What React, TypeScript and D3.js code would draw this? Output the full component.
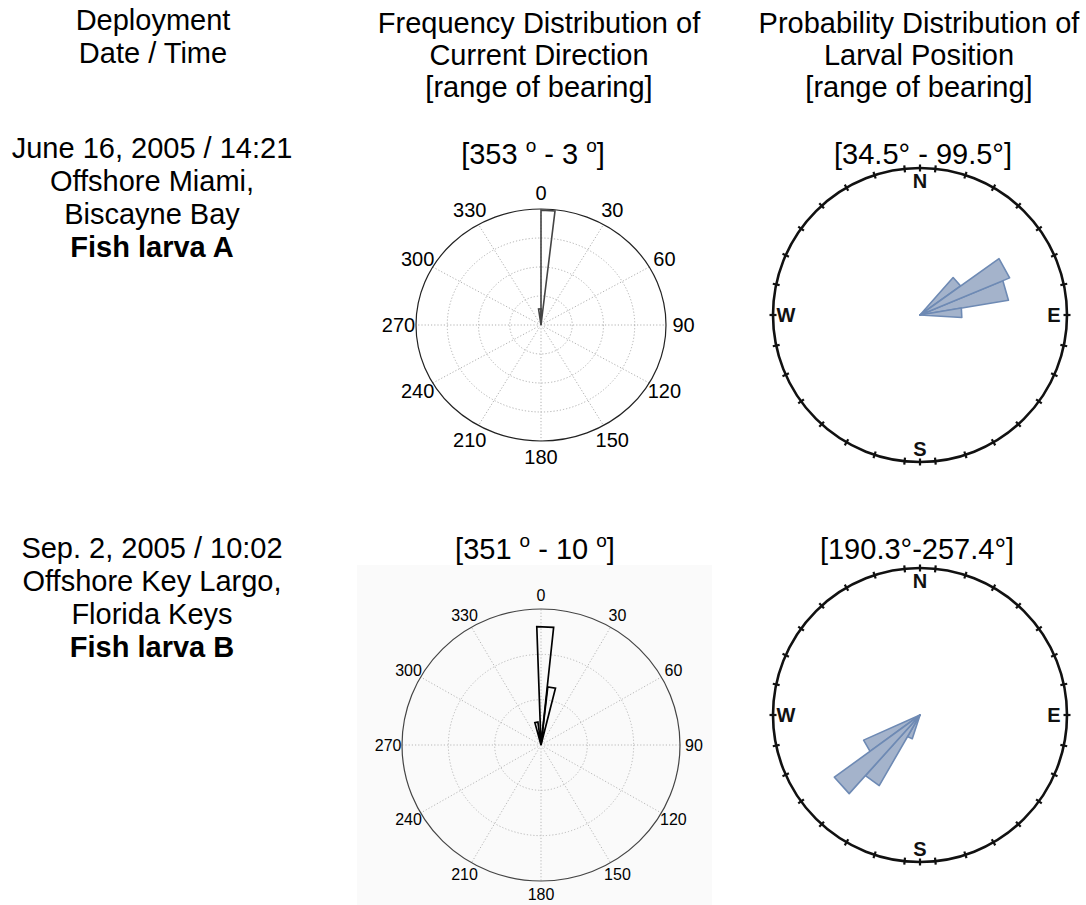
import React from "react";
import * as d3 from "d3";

// ---------- DATA ----------
const headerLeft = ["Deployment", "Date / Time"];
const headerMiddle = ["Frequency Distribution of", "Current Direction", "[range of bearing]"];
const headerRight = ["Probability Distribution of", "Larval Position", "[range of bearing]"];

const rowALines = ["June 16, 2005 / 14:21", "Offshore Miami,", "Biscayne Bay"];
const rowATitle = "Fish larva A";
const rowBLines = ["Sep. 2, 2005 / 10:02", "Offshore Key Largo,", "Florida Keys"];
const rowBTitle = "Fish larva B";

// current direction ranges (deg) shown with superscript "o"
const currentRangeA = [353, 3];
const currentRangeB = [351, 10];
const larvalRangeA = "[34.5° - 99.5°]";
const larvalRangeB = "[190.3°-257.4°]";

// polar tick labels
const polarTicks = [0, 30, 60, 90, 120, 150, 180, 210, 240, 270, 300, 330];

// Rose (current direction) bins: start bearing, end bearing, relative frequency
const roseAStart = [352, 0];
const roseAEnd = [360, 6.5];
const roseAFreq = [0.14, 0.99];

const roseBStart = [345, 358, 6.5];
const roseBEnd = [352.5, 366, 14];
const roseBFreq = [0.17, 0.87, 0.43];

// Larval position probability bins
const larvaAStart = [41.5, 67.5, 54.5, 80.5];
const larvaAEnd = [54.5, 80.5, 67.5, 93.5];
const larvaAProb = [0.34, 0.61, 0.66, 0.285];

const larvaBStart = [234, 198, 210, 222];
const larvaBEnd = [246, 210, 222, 234];
const larvaBProb = [0.42, 0.17, 0.555, 0.72];

// compass tick bearings
const compassTicks = [0, 180, 6, 18, 30, 42, 54, 66, 78, 90, 102, 114, 126, 138, 150, 162, 174,
  186, 198, 210, 222, 234, 246, 258, 270, 282, 294, 306, 318, 330, 342, 354];
const compassLabels = ["N", "E", "S", "W"];
const compassLabelBearings = [0, 90, 180, 270];

const FONT = "'Liberation Sans', Arial, Helvetica, sans-serif";
const angle = d3.scaleLinear().domain([0, 360]).range([0, 2 * Math.PI]);

function makePt(cx: number, cy: number, rx: number, ry: number) {
  const sx = d3.scaleLinear().domain([0, 1]).range([0, rx]);
  const sy = d3.scaleLinear().domain([0, 1]).range([0, ry]);
  return (deg: number, r: number): [number, number] => [
    cx + sx(r) * Math.sin(angle(deg)),
    cy - sy(r) * Math.cos(angle(deg)),
  ];
}

function wedgePath(pt: (d: number, r: number) => [number, number], s: number, e: number, v: number) {
  const p = d3.path();
  const c = pt(0, 0);
  const a = pt(s, v);
  const b = pt(e, v);
  p.moveTo(c[0], c[1]);
  p.lineTo(a[0], a[1]);
  p.lineTo(b[0], b[1]);
  p.closePath();
  return p.toString();
}

function PolarRose(props: {
  cx: number; cy: number; rx: number; ry: number; rings: number[]; labelF: number;
  fontSize: number; starts: number[]; ends: number[]; vals: number[];
  gridColor: string; outerColor: string; wedgeColor: string; wedgeWidth: number;
}) {
  const { cx, cy, rx, ry, rings, labelF, fontSize, starts, ends, vals } = props;
  const pt = makePt(cx, cy, rx, ry);
  return (
    <g>
      {rings.map((r, i) => (
        <ellipse key={"r" + i} cx={cx} cy={cy} rx={rx * r} ry={ry * r} fill="none"
          stroke={props.gridColor} strokeWidth={1} strokeDasharray="1.2,2" />
      ))}
      {polarTicks.map((t) => {
        const [x, y] = pt(t, 1);
        return <line key={"s" + t} x1={cx} y1={cy} x2={x} y2={y} stroke={props.gridColor}
          strokeWidth={1} strokeDasharray="1.2,2" />;
      })}
      <ellipse cx={cx} cy={cy} rx={rx} ry={ry} fill="none" stroke={props.outerColor} strokeWidth={1.2} />
      {polarTicks.map((t) => {
        const [x, y] = pt(t, labelF);
        return <text key={"l" + t} x={x} y={y} fontSize={fontSize} fontFamily={FONT}
          textAnchor="middle" dominantBaseline="central" fill="#000">{t}</text>;
      })}
      {starts.map((s, i) => (
        <path key={"w" + i} d={wedgePath(pt, s, ends[i], vals[i])} fill="none"
          stroke={props.wedgeColor} strokeWidth={props.wedgeWidth} strokeLinejoin="miter" />
      ))}
    </g>
  );
}

function Compass(props: { cx: number; cy: number; r: number; starts: number[]; ends: number[]; vals: number[] }) {
  const { cx, cy, r, starts, ends, vals } = props;
  const pt = makePt(cx, cy, r, r);
  return (
    <g>
      <circle cx={cx} cy={cy} r={r} fill="none" stroke="#111" strokeWidth={2.6} />
      {compassTicks.map((t, i) => {
        const a = pt(t, 1 - 3.5 / r);
        const b = pt(t, 1 + 3.5 / r);
        return <line key={"t" + i} x1={a[0]} y1={a[1]} x2={b[0]} y2={b[1]} stroke="#111" strokeWidth={2.2} />;
      })}
      {compassLabels.map((l, i) => {
        const [x, y] = pt(compassLabelBearings[i], 134 / r);
        return <text key={l} x={x} y={y} fontSize={20} fontWeight="bold" fontFamily={FONT}
          textAnchor="middle" dominantBaseline="central" fill="#111">{l}</text>;
      })}
      {starts.map((s, i) => (
        <path key={"w" + i} d={wedgePath(pt, s, ends[i], vals[i])} fill="#a4b3cb"
          stroke="#6e8ab4" strokeWidth={1.6} strokeLinejoin="round" />
      ))}
    </g>
  );
}

function CurrentRange(props: { x: number; y: number; range: number[] }) {
  const { x, y, range } = props;
  return (
    <text x={x} y={y} fontSize={29} fontFamily={FONT} textAnchor="middle" fill="#000">
      {"[" + range[0] + "  "}
      <tspan fontSize={19} dy={-12}>o</tspan>
      <tspan dy={12}>{"  - " + range[1] + " "}</tspan>
      <tspan fontSize={19} dy={-12}>o</tspan>
      <tspan dy={12}>]</tspan>
    </text>
  );
}

export default function App() {
  const W = 1086, H = 905;
  const lineH = 33;
  return (
    <svg width={W} height={H} viewBox={`0 0 ${W} ${H}`}
      style={{ position: "absolute", left: 0, top: 0, background: "#fff" }}>
      <rect x={0} y={0} width={W} height={H} fill="#fff" />
      {/* light panel behind bottom rose */}
      <rect x={357} y={565} width={355} height={340} fill="#fafafa" />
      {/* headers */}
      {headerLeft.map((t, i) => (
        <text key={"hl" + i} x={153} y={30 + i * lineH} fontSize={29} fontFamily={FONT} textAnchor="middle">{t}</text>
      ))}
      {headerMiddle.map((t, i) => (
        <text key={"hm" + i} x={539} y={33 + i * 32} fontSize={29} fontFamily={FONT} textAnchor="middle">{t}</text>
      ))}
      {headerRight.map((t, i) => (
        <text key={"hr" + i} x={919} y={33 + i * 32} fontSize={29} fontFamily={FONT} textAnchor="middle">{t}</text>
      ))}
      {/* row A text */}
      {rowALines.map((t, i) => (
        <text key={"ra" + i} x={152} y={158 + i * lineH} fontSize={29} fontFamily={FONT} textAnchor="middle">{t}</text>
      ))}
      <text x={152} y={158 + 3 * lineH} fontSize={29} fontWeight="bold" fontFamily={FONT} textAnchor="middle">{rowATitle}</text>
      {rowBLines.map((t, i) => (
        <text key={"rb" + i} x={152} y={558 + i * lineH} fontSize={29} fontFamily={FONT} textAnchor="middle">{t}</text>
      ))}
      <text x={152} y={558 + 3 * lineH} fontSize={29} fontWeight="bold" fontFamily={FONT} textAnchor="middle">{rowBTitle}</text>

      {/* range labels */}
      <CurrentRange x={533} y={164} range={currentRangeA} />
      <text x={923} y={164} fontSize={29} fontFamily={FONT} textAnchor="middle">{larvalRangeA}</text>
      <CurrentRange x={535} y={559} range={currentRangeB} />
      <text x={917} y={559} fontSize={29} fontFamily={FONT} textAnchor="middle">{larvalRangeB}</text>

      {/* top rose */}
      <PolarRose cx={541} cy={325} rx={125} ry={116} rings={[0.25, 0.5, 0.75]} labelF={1.14} fontSize={20}
        starts={roseAStart} ends={roseAEnd} vals={roseAFreq} gridColor="#b0b0b0" outerColor="#222"
        wedgeColor="#444" wedgeWidth={1.6} />

      {/* bottom rose */}
      <PolarRose cx={541} cy={745} rx={139} ry={136} rings={[1 / 3, 2 / 3]} labelF={1.1} fontSize={16}
        starts={roseBStart} ends={roseBEnd} vals={roseBFreq} gridColor="#b8b8b8" outerColor="#444"
        wedgeColor="#000" wedgeWidth={1.7} />

      {/* compasses */}
      <Compass cx={920} cy={315} r={147} starts={larvaAStart} ends={larvaAEnd} vals={larvaAProb} />
      <Compass cx={920} cy={715} r={147} starts={larvaBStart} ends={larvaBEnd} vals={larvaBProb} />
    </svg>
  );
}
